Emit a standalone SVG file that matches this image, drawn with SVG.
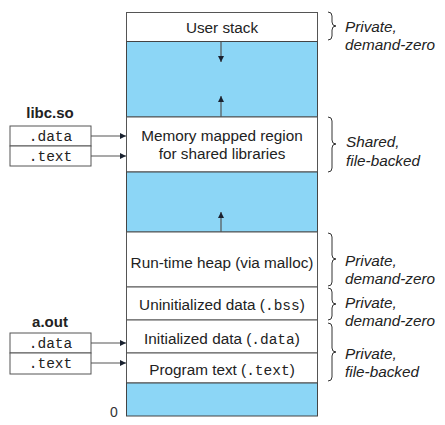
<svg xmlns="http://www.w3.org/2000/svg" width="445" height="425" viewBox="0 0 445 425">
<style>
.lbl{font-family:"Liberation Sans",Arial,sans-serif;font-size:15.3px;fill:#222;text-anchor:middle}
.mono{font-family:"Liberation Mono","Courier New",monospace;font-size:14.5px}
.side{font-family:"Liberation Sans",Arial,sans-serif;font-size:15.3px;font-style:italic;fill:#222}
.hdr{font-family:"Liberation Sans",Arial,sans-serif;font-size:15px;font-weight:bold;fill:#222;text-anchor:middle}
.blue{fill:#8cd6f6;stroke:#444;stroke-width:1}
.white{fill:#fff;stroke:#555;stroke-width:1}
.box{fill:#fff;stroke:#555;stroke-width:1}
.brace{fill:none;stroke:#333;stroke-width:1}
.conn{stroke:#555;stroke-width:1.2;fill:none}
</style>
<defs>
<marker id="ah" viewBox="0 0 10 10" refX="10" refY="5" markerWidth="6" markerHeight="6" orient="auto" markerUnits="userSpaceOnUse">
<path d="M0,0 L10,5 L0,10 z" fill="#1a2230"/>
</marker>
</defs>

<g id="memory-column">
<rect id="user-stack" class="white" x="126.5" y="12.5" width="191" height="29"/>
<rect id="gap-stack" class="blue" x="126.5" y="41.5" width="191" height="75.5"/>
<rect id="mmap" class="white" x="126.5" y="117" width="191" height="55"/>
<rect id="gap-heap" class="blue" x="126.5" y="172" width="191" height="60"/>
<rect id="heap" class="white" x="126.5" y="232" width="191" height="55"/>
<rect id="bss" class="white" x="126.5" y="287" width="191" height="33"/>
<rect id="data" class="white" x="126.5" y="320" width="191" height="33"/>
<rect id="text" class="white" x="126.5" y="353" width="191" height="30"/>
<rect id="bottom" class="blue" x="126.5" y="383" width="191" height="33"/>
<text class="lbl" x="222" y="33">User stack</text>
<text class="lbl" x="222" y="141">Memory mapped region</text>
<text class="lbl" x="222" y="159">for shared libraries</text>
<text class="lbl" x="222" y="268">Run-time heap (via malloc)</text>
<text class="lbl" x="222" y="310">Uninitialized data (<tspan class="mono">.bss</tspan>)</text>
<text class="lbl" x="222" y="344">Initialized data (<tspan class="mono">.data</tspan>)</text>
<text class="lbl" x="222" y="375">Program text (<tspan class="mono">.text</tspan>)</text>
<text x="110" y="417" style="font-family:'Liberation Sans',Arial,sans-serif;font-size:14px;fill:#333">0</text>
</g>

<g id="libc">
<text class="hdr" x="50" y="118">libc.so</text>
<rect class="box" x="10" y="126" width="81" height="20"/>
<rect class="box" x="10" y="146" width="81" height="20"/>
<text class="lbl mono" x="50.5" y="141">.data</text>
<text class="lbl mono" x="50.5" y="161">.text</text>
</g>

<g id="aout">
<text class="hdr" x="50" y="327">a.out</text>
<rect class="box" x="10" y="333" width="81" height="20"/>
<rect class="box" x="10" y="353" width="81" height="21"/>
<text class="lbl mono" x="50.5" y="348">.data</text>
<text class="lbl mono" x="50.5" y="368">.text</text>
</g>

<g id="connectors">
<line class="conn" x1="221" y1="42" x2="221" y2="62" marker-end="url(#ah)" stroke="#1a2230"/>
<line class="conn" x1="221" y1="117" x2="221" y2="96" marker-end="url(#ah)" stroke="#1a2230"/>
<line class="conn" x1="221" y1="232" x2="221" y2="212" marker-end="url(#ah)" stroke="#1a2230"/>
<line class="conn" x1="91" y1="136" x2="126" y2="136" marker-end="url(#ah)"/>
<line class="conn" x1="91" y1="156" x2="126" y2="156" marker-end="url(#ah)"/>
<line class="conn" x1="91" y1="343" x2="126" y2="343" marker-end="url(#ah)"/>
<line class="conn" x1="91" y1="363" x2="126" y2="363" marker-end="url(#ah)"/>
</g>

<g id="braces">
<path class="brace" d="M328,12 Q332,12 332,16 L332,22 Q332,26 336,26 Q332,26 332,30 L332,36 Q332,40 328,40"/>
<path class="brace" d="M328,117 Q332,117 332,121 L332,140 Q332,144 336,144 Q332,144 332,148 L332,168 Q332,172 328,172"/>
<path class="brace" d="M328,233 Q332,233 332,237 L332,255 Q332,259 336,259 Q332,259 332,263 L332,282 Q332,286 328,286"/>
<path class="brace" d="M328,288 Q332,288 332,292 L332,300 Q332,304 336,304 Q332,304 332,308 L332,316 Q332,320 328,320"/>
<path class="brace" d="M328,323 Q332,323 332,327 L332,348 Q332,352 336,352 Q332,352 332,356 L332,377 Q332,381 328,381"/>
</g>

<g id="labels">
<text class="side" x="345" y="32">Private,</text>
<text class="side" x="345" y="50">demand-zero</text>
<text class="side" x="346" y="147">Shared,</text>
<text class="side" x="346" y="166">file-backed</text>
<text class="side" x="345" y="266">Private,</text>
<text class="side" x="345" y="284">demand-zero</text>
<text class="side" x="345" y="308">Private,</text>
<text class="side" x="345" y="326">demand-zero</text>
<text class="side" x="345" y="359">Private,</text>
<text class="side" x="345" y="377">file-backed</text>
</g>
</svg>
